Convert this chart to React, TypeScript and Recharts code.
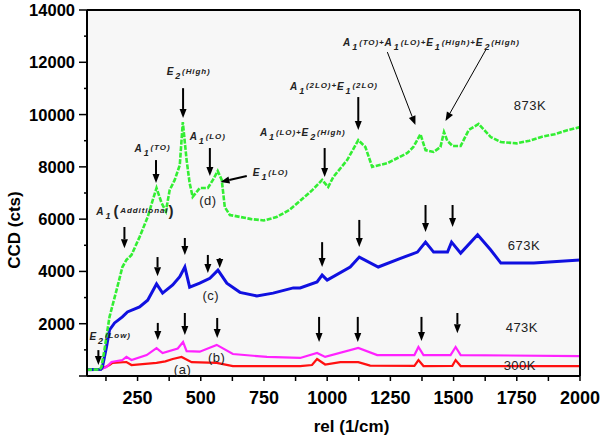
import React from 'react'
import { LineChart, Line, XAxis, YAxis, CartesianGrid, ReferenceLine, ReferenceDot } from 'recharts'

const X_TICKS = [125, 250, 375, 500, 625, 750, 875, 1000, 1125, 1250, 1375, 1500, 1625, 1750, 1875, 2000]
const Y_TICKS = [0, 1000, 2000, 3000, 4000, 5000, 6000, 7000, 8000, 9000, 10000, 11000, 12000, 13000, 14000]

// spectra (rel 1/cm, CCD cts)
const s300K = [
  { x: 50, y: 240 }, { x: 105, y: 260 }, { x: 139, y: 420 }, { x: 151, y: 500 }, { x: 206, y: 535 },
  { x: 226, y: 420 }, { x: 325, y: 500 }, { x: 360, y: 560 }, { x: 389, y: 650 }, { x: 424, y: 730 },
  { x: 464, y: 530 }, { x: 563, y: 500 }, { x: 627, y: 380 }, { x: 893, y: 380 }, { x: 940, y: 420 },
  { x: 960, y: 650 }, { x: 992, y: 440 }, { x: 1052, y: 530 }, { x: 1123, y: 530 }, { x: 1170, y: 400 },
  { x: 1345, y: 390 }, { x: 1361, y: 610 }, { x: 1381, y: 380 }, { x: 1495, y: 390 }, { x: 1508, y: 610 },
  { x: 1528, y: 380 }, { x: 2000, y: 380 },
]

const s473K = [
  { x: 50, y: 240 }, { x: 105, y: 260 }, { x: 127, y: 340 }, { x: 147, y: 535 }, { x: 190, y: 610 },
  { x: 206, y: 730 }, { x: 226, y: 610 }, { x: 286, y: 800 }, { x: 325, y: 1070 }, { x: 349, y: 880 },
  { x: 409, y: 1050 }, { x: 430, y: 1300 }, { x: 444, y: 950 }, { x: 496, y: 930 }, { x: 563, y: 1190 },
  { x: 627, y: 840 }, { x: 762, y: 730 }, { x: 893, y: 690 }, { x: 960, y: 880 }, { x: 992, y: 730 },
  { x: 1123, y: 1070 }, { x: 1198, y: 800 }, { x: 1345, y: 800 }, { x: 1361, y: 1110 }, { x: 1381, y: 800 },
  { x: 1488, y: 800 }, { x: 1508, y: 1110 }, { x: 1528, y: 800 }, { x: 2000, y: 760 },
]

const s673K = [
  { x: 50, y: 240 }, { x: 105, y: 260 }, { x: 111, y: 340 }, { x: 127, y: 1110 }, { x: 139, y: 1760 },
  { x: 159, y: 2030 }, { x: 190, y: 2260 }, { x: 210, y: 2450 }, { x: 258, y: 2640 }, { x: 290, y: 2900 },
  { x: 325, y: 3520 }, { x: 349, y: 3170 }, { x: 389, y: 3480 }, { x: 417, y: 3800 }, { x: 437, y: 4170 },
  { x: 456, y: 3400 }, { x: 496, y: 3550 }, { x: 536, y: 3740 }, { x: 568, y: 4050 }, { x: 603, y: 3550 },
  { x: 655, y: 3200 }, { x: 722, y: 3060 }, { x: 786, y: 3170 }, { x: 866, y: 3370 }, { x: 893, y: 3370 },
  { x: 960, y: 3600 }, { x: 980, y: 3860 }, { x: 1000, y: 3670 }, { x: 1091, y: 4170 }, { x: 1127, y: 4550 },
  { x: 1202, y: 4170 }, { x: 1290, y: 4500 }, { x: 1357, y: 4740 }, { x: 1389, y: 5120 }, { x: 1421, y: 4740 },
  { x: 1476, y: 4740 }, { x: 1492, y: 5120 }, { x: 1528, y: 4700 }, { x: 1595, y: 5400 }, { x: 1647, y: 4820 },
  { x: 1687, y: 4320 }, { x: 1817, y: 4320 }, { x: 2000, y: 4440 },
]

const s873K = [
  { x: 50, y: 240 }, { x: 100, y: 250 }, { x: 107, y: 340 }, { x: 119, y: 1000 }, { x: 139, y: 2260 },
  { x: 167, y: 3290 }, { x: 190, y: 4170 }, { x: 206, y: 4440 }, { x: 226, y: 4630 }, { x: 258, y: 5320 },
  { x: 290, y: 6080 }, { x: 310, y: 6730 }, { x: 325, y: 7190 }, { x: 345, y: 6620 }, { x: 362, y: 6300 },
  { x: 377, y: 7110 }, { x: 397, y: 7500 }, { x: 417, y: 8070 }, { x: 429, y: 9710 }, { x: 444, y: 8260 },
  { x: 456, y: 7380 }, { x: 468, y: 6850 }, { x: 496, y: 7190 }, { x: 528, y: 7190 }, { x: 548, y: 7500 },
  { x: 567, y: 7840 }, { x: 583, y: 7500 }, { x: 595, y: 6460 }, { x: 615, y: 6160 }, { x: 700, y: 6000 },
  { x: 750, y: 5950 }, { x: 800, y: 6080 }, { x: 850, y: 6350 }, { x: 893, y: 6700 }, { x: 940, y: 7100 },
  { x: 980, y: 7500 }, { x: 1004, y: 7230 }, { x: 1024, y: 7610 }, { x: 1079, y: 8260 }, { x: 1123, y: 9020 },
  { x: 1151, y: 8760 }, { x: 1178, y: 8000 }, { x: 1238, y: 8140 }, { x: 1317, y: 8530 }, { x: 1341, y: 8760 },
  { x: 1369, y: 9250 }, { x: 1389, y: 8640 }, { x: 1421, y: 8570 }, { x: 1448, y: 8760 }, { x: 1462, y: 9330 },
  { x: 1475, y: 9000 }, { x: 1496, y: 8800 }, { x: 1528, y: 8800 }, { x: 1560, y: 9410 }, { x: 1599, y: 9640 },
  { x: 1647, y: 9140 }, { x: 1687, y: 8950 }, { x: 1750, y: 8900 }, { x: 1800, y: 9000 }, { x: 1850, y: 9150 },
  { x: 1900, y: 9250 }, { x: 1950, y: 9400 }, { x: 2000, y: 9520 },
]

// arrows: tail (x1,y1) -> head (x2,y2)
const arrows = [
  { x1: 430, y1: 11010, x2: 430, y2: 9870 },
  { x1: 323, y1: 8260, x2: 323, y2: 7380 },
  { x1: 536, y1: 8720, x2: 536, y2: 7650 },
  { x1: 682, y1: 7650, x2: 578, y2: 7420 },
  { x1: 198, y1: 5700, x2: 198, y2: 4890 },
  { x1: 990, y1: 8720, x2: 990, y2: 7610 },
  { x1: 1123, y1: 10670, x2: 1123, y2: 9410 },
  { x1: 1238, y1: 12390, x2: 1349, y2: 9600, thin: true },
  { x1: 1627, y1: 12470, x2: 1468, y2: 9750, thin: true },
  { x1: 329, y1: 4550, x2: 329, y2: 3820 },
  { x1: 437, y1: 5280, x2: 437, y2: 4630 },
  { x1: 528, y1: 4630, x2: 528, y2: 3940 },
  { x1: 575, y1: 4510, x2: 575, y2: 4130 },
  { x1: 980, y1: 5120, x2: 980, y2: 4170 },
  { x1: 1127, y1: 5970, x2: 1127, y2: 4930 },
  { x1: 1389, y1: 6540, x2: 1389, y2: 5510 },
  { x1: 1496, y1: 6540, x2: 1496, y2: 5700 },
  { x1: 330, y1: 2030, x2: 330, y2: 1380 },
  { x1: 437, y1: 2410, x2: 437, y2: 1570 },
  { x1: 565, y1: 2220, x2: 565, y2: 1450 },
  { x1: 968, y1: 2260, x2: 968, y2: 1300 },
  { x1: 1121, y1: 2260, x2: 1121, y2: 1300 },
  { x1: 1373, y1: 2260, x2: 1373, y2: 1340 },
  { x1: 1515, y1: 2410, x2: 1515, y2: 1640 },
  { x1: 95, y1: 990, x2: 95, y2: 420 },
]

const modeLabels = [
  { x: 365, y: 11510, text: 'E_2(High)' },
  { x: 238, y: 8570, text: 'A_1(TO)' },
  { x: 456, y: 9020, text: 'A_1(LO)' },
  { x: 706, y: 7650, text: 'E_1(LO)' },
  { x: 87, y: 6160, text: 'A_1[Additional]' },
  { x: 734, y: 9180, text: 'A_1(LO)+E_2(High)' },
  { x: 853, y: 10940, text: 'A_1(2LO)+E_1(2LO)' },
  { x: 1063, y: 12620, text: 'A_1(TO)+A_1(LO)+E_1(High)+E_2(High)' },
  { x: 60, y: 1380, text: 'E_2(Low)' },
]

const plainLabels = [
  { x: 1738, y: 10170, text: '873K', anchor: 'start' },
  { x: 1714, y: 4820, text: '673K', anchor: 'start' },
  { x: 1706, y: 1680, text: '473K', anchor: 'start' },
  { x: 1698, y: 230, text: '300K', anchor: 'start' },
  { x: 528, y: 6540, text: '(d)', anchor: 'middle' },
  { x: 540, y: 2910, text: '(c)', anchor: 'middle' },
  { x: 563, y: 535, text: '(b)', anchor: 'middle' },
  { x: 428, y: 76, text: '(a)', anchor: 'middle' },
]

const FONT = '"Liberation Sans", Arial, sans-serif'
const W = 600
const H = 441
const Y_AXIS_W = 87
const X_AXIS_H = 65
const PLOT_LEFT = Y_AXIS_W
const PLOT_BOTTOM = H - X_AXIS_H

function arrowShape(width: number) {
  return (p: any) => {
    const { x1, y1, x2, y2 } = p
    const dx = x2 - x1
    const dy = y2 - y1
    const len = Math.hypot(dx, dy) || 1
    const ux = dx / len
    const uy = dy / len
    const hl = 9
    const hw = 3.5
    const bx = x2 - ux * hl
    const by = y2 - uy * hl
    const pts = `${x2},${y2} ${bx - uy * hw},${by + ux * hw} ${bx + uy * hw},${by - ux * hw}`
    return (
      <g>
        <line x1={x1} y1={y1} x2={bx} y2={by} stroke="#000" strokeWidth={width} />
        <polygon points={pts} fill="#000" />
      </g>
    )
  }
}

// "A_1" -> big letter + subscript, "[" "]" -> big parens, rest small raised text
function modeText(text: string) {
  return (p: any) => {
    const parts = text.split(/([AE]_\d|\[|\])/).filter((s) => s !== '')
    const spans: React.ReactNode[] = []
    let cur = 0
    const move = (to: number) => {
      const d = to - cur
      cur = to
      return d
    }
    parts.forEach((part, i) => {
      if (/^[AE]_\d$/.test(part)) {
        spans.push(
          <tspan key={i + 'a'} dy={move(0)} fontSize={10}>{part[0]}</tspan>,
          <tspan key={i + 'b'} dy={move(4)} fontSize={9} dx={1}>{part[2]}</tspan>,
        )
      } else if (part === '[' || part === ']') {
        spans.push(<tspan key={i} dy={move(1)} fontSize={15} fontStyle="normal" dx={part === '[' ? 2 : 0}>{part === '[' ? '(' : ')'}</tspan>)
      } else {
        spans.push(<tspan key={i} dy={move(-1.5)} fontSize={8} dx={1}>{part}</tspan>)
      }
    })
    return (
      <text x={p.cx} y={p.cy} fontFamily={FONT} fontStyle="italic" fontWeight="bold" fill="#222" letterSpacing={0.9}>
        {spans}
      </text>
    )
  }
}

function plainText(text: string, anchor: string) {
  return (p: any) => (
    <text x={p.cx} y={p.cy} fontFamily={FONT} fontSize={13} fill="#222" textAnchor={anchor} letterSpacing={0.5}>
      {text}
    </text>
  )
}

// bottom ticks: short outward marks, labels every 250
const XTick = (p: any) => {
  const v = p.payload.value
  const cx = p.payload.coordinate ?? p.x
  return (
    <g>
      <line x1={cx} x2={cx} y1={PLOT_BOTTOM} y2={PLOT_BOTTOM + 5} stroke="#000" strokeWidth={1.5} />
      {v % 250 === 0 && (
        <text x={cx} y={PLOT_BOTTOM + 28} textAnchor="middle" fontFamily={FONT} fontWeight="bold" fontSize={18} fill="#000">
          {v}
        </text>
      )}
    </g>
  )
}

// left ticks: 8px major, 3px minor, labels every 2000
const YTick = (p: any) => {
  const v = p.payload.value
  const cy = p.payload.coordinate ?? p.y
  const major = v % 2000 === 0
  return (
    <g>
      <line x1={PLOT_LEFT - (major ? 8 : 3)} x2={PLOT_LEFT} y1={cy} y2={cy} stroke="#000" strokeWidth={1.5} />
      {major && v > 0 && (
        <text x={PLOT_LEFT - 12} y={cy} dy="0.36em" textAnchor="end" fontFamily={FONT} fontWeight="bold" fontSize={16.5} fill="#000">
          {v}
        </text>
      )}
    </g>
  )
}

export default function App() {
  return (
    <div style={{ position: 'absolute', left: 0, top: 0, width: W, height: H, background: '#fff' }}>
      <LineChart width={W} height={H} margin={{ top: 10, right: 20, bottom: 0, left: 0 }} style={{ fontFamily: FONT }}>
        <CartesianGrid fill="#f7f7f7" horizontal={false} vertical={false} />
        <XAxis
          dataKey="x"
          type="number"
          domain={[50, 2000]}
          allowDataOverflow
          ticks={X_TICKS}
          interval={0}
          height={X_AXIS_H}
          tickLine={false}
          tick={<XTick />}
          axisLine={{ stroke: '#000', strokeWidth: 2 }}
          label={{
            content: (p: any) => {
              const vb = p.viewBox || { x: PLOT_LEFT, y: PLOT_BOTTOM, width: 493, height: X_AXIS_H }
              return (
                <text x={vb.x + vb.width / 2 + 18} y={vb.y + 56} textAnchor="middle" fontFamily={FONT} fontWeight="bold" fontSize={17} fill="#000">
                  rel (1/cm)
                </text>
              )
            },
          }}
        />
        <XAxis
          xAxisId="top"
          orientation="top"
          type="number"
          domain={[50, 2000]}
          allowDataOverflow
          ticks={X_TICKS}
          interval={0}
          mirror
          tickSize={5}
          tick={false}
          axisLine={{ stroke: '#000', strokeWidth: 2 }}
          tickLine={{ stroke: '#000', strokeWidth: 1.5 }}
        />
        <YAxis
          type="number"
          domain={[0, 14000]}
          ticks={Y_TICKS}
          interval={0}
          width={Y_AXIS_W}
          tickLine={false}
          tick={<YTick />}
          axisLine={{ stroke: '#000', strokeWidth: 2 }}
          label={{
            content: (p: any) => {
              const vb = p.viewBox || { x: 0, y: 10, width: Y_AXIS_W, height: PLOT_BOTTOM - 10 }
              const cx = vb.x + 14
              const cy = vb.y + vb.height / 2 + 37
              return (
                <text transform={`translate(${cx},${cy}) rotate(-90)`} textAnchor="middle" dominantBaseline="central" fontFamily={FONT} fontWeight="bold" fontSize={17} fill="#000">
                  CCD (cts)
                </text>
              )
            },
          }}
        />
        <YAxis
          yAxisId="right"
          orientation="right"
          type="number"
          domain={[0, 14000]}
          ticks={Y_TICKS}
          interval={0}
          mirror
          tickSize={4}
          tick={false}
          axisLine={{ stroke: '#000', strokeWidth: 2 }}
          tickLine={{ stroke: '#000', strokeWidth: 1.5 }}
        />

        <Line data={s300K} dataKey="y" type="linear" stroke="#ff1010" strokeWidth={2.2} dot={false} isAnimationActive={false} />
        <Line data={s473K} dataKey="y" type="linear" stroke="#ff22ff" strokeWidth={2.2} dot={false} isAnimationActive={false} />
        <Line data={s673K} dataKey="y" type="linear" stroke="#1010e0" strokeWidth={3} dot={false} isAnimationActive={false} />
        <Line data={s873K} dataKey="y" type="linear" stroke="#33ee33" strokeWidth={2.6} strokeDasharray="5 1.5" dot={false} isAnimationActive={false} />

        {arrows.map((a, i) => (
          <ReferenceLine
            key={'ar' + i}
            segment={[{ x: a.x1, y: a.y1 }, { x: a.x2, y: a.y2 }]}
            shape={arrowShape(a.thin ? 1 : 2)}
            ifOverflow="visible"
          />
        ))}
        {modeLabels.map((l, i) => (
          <ReferenceDot key={'ml' + i} x={l.x} y={l.y} r={0} shape={modeText(l.text)} ifOverflow="visible" />
        ))}
        {plainLabels.map((l, i) => (
          <ReferenceDot key={'pl' + i} x={l.x} y={l.y} r={0} shape={plainText(l.text, l.anchor)} ifOverflow="visible" />
        ))}
      </LineChart>
    </div>
  )
}
